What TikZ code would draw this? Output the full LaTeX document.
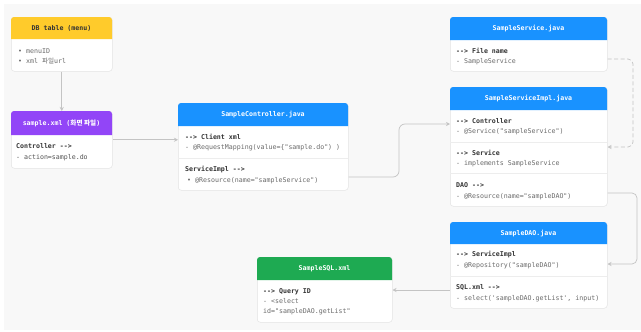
\documentclass[tikz,border=0pt]{standalone}
\usepackage{fontspec}
\setmonofont{DejaVu Sans Mono}
\newfontfamily\kr{Noto Sans CJK KR}
\usetikzlibrary{arrows.meta,calc}

\definecolor{pagebg}{HTML}{F8F8F8}
\definecolor{hdryellow}{HTML}{FFCB2B}
\definecolor{hdrpurple}{HTML}{9245F7}
\definecolor{hdrblue}{HTML}{1992FF}
\definecolor{hdrgreen}{HTML}{1EAA52}
\definecolor{boxline}{HTML}{E3E3E3}
\definecolor{divline}{HTML}{EDEDED}
\definecolor{txtdark}{HTML}{333333}
\definecolor{txtgray}{HTML}{6A6A6A}
\definecolor{wire}{HTML}{C4C4C4}

\tikzset{
  card/.style={draw=boxline, fill=white, rounded corners=3pt, line width=0.5pt,
    anchor=north west, inner sep=0pt},
  hdrtext/.style={font=\ttfamily\bfseries\fontsize{6.6}{8}\selectfont, text=white, inner sep=0pt},
  keyline/.style={font=\ttfamily\bfseries\fontsize{6.6}{8}\selectfont, text=txtdark,
    anchor=mid west, inner sep=0pt},
  plainline/.style={font=\ttfamily\fontsize{6.6}{8}\selectfont, text=txtgray,
    anchor=mid west, inner sep=0pt},
  conn/.style={draw=wire, line width=0.7pt, rounded corners=5pt,
    -{Stealth[length=4pt,width=4pt]}},
}

% card with a coloured header band: name, x1, y1, x2, y2, header bottom, colour
\newcommand{\headcard}[7]{%
  \node[card, minimum width={(#4-#2)*1pt}, minimum height={(#5-#3)*1pt}] (#1) at (#2,#3) {};
  \fill[#7] (#2,#6) [rounded corners=3pt] -- (#2,#3) -- (#4,#3) [sharp corners] -- (#4,#6) -- cycle;
}
\newcommand{\divider}[3]{\draw[divline, line width=0.5pt] (#1,#3) -- (#2,#3);}

\begin{document}
\begin{tikzpicture}[x=1pt, y=-1pt]
\useasboundingbox (0,0) rectangle (641,332);
\fill[white] (0,0) rectangle (641,332);
\fill[pagebg] (4,4) rectangle (641,330);

% ---- DB table
\headcard{db}{11}{17}{112}{71}{39}{hdryellow}
\node[hdrtext, text=txtdark] (dbh) at (61.5,28.5) {DB table (menu)};
\node[plainline] (db1) at (18,51) {• menuID};
\node[plainline] (db2) at (18,61.5) {• xml {\kr 파일}url};

% ---- sample.xml
\headcard{xml}{11}{111}{112}{168}{135}{hdrpurple}
\node[hdrtext] (xmlh) at (61.5,123) {sample.xml ({\kr\bfseries 화면 파일})};
\node[keyline] (xml1) at (16,146) {Controller -->};
\node[plainline, text=txtdark!85] (xml2) at (16,157) {- action=sample.do};

% ---- SampleController.java
\headcard{ctrl}{178}{103}{348}{190}{126}{hdrblue}
\divider{178}{348}{158}
\node[hdrtext] (ctrlh) at (263,114.5) {SampleController.java};
\node[keyline] (c1) at (185,137) {--> Client xml};
\node[plainline] (c2) at (185,147.5) {- @RequestMapping(value=\{"sample.do") )};
\node[keyline] (c3) at (185,169) {ServiceImpl -->};
\node[plainline] (c4) at (187,180) {• @Resource(name="sampleService")};

% ---- SampleService.java
\headcard{svc}{450}{17}{607}{71}{40}{hdrblue}
\node[hdrtext] (svch) at (528.5,29) {SampleService.java};
\node[keyline] (s1) at (456,51) {--> File name};
\node[plainline] (s2) at (456,61.5) {- SampleService};

% ---- SampleServiceImpl.java
\headcard{impl}{450}{87}{607}{206}{110}{hdrblue}
\divider{450}{607}{142}
\divider{450}{607}{173}
\node[hdrtext] (implh) at (528.5,98.5) {SampleServiceImpl.java};
\node[keyline] (i1) at (456,121) {--> Controller};
\node[plainline] (i2) at (456,131.5) {- @Service("sampleService")};
\node[keyline] (i3) at (456,153) {--> Service};
\node[plainline] (i4) at (456,163.5) {- implements SampleService};
\node[keyline] (i5) at (456,185) {DAO -->};
\node[plainline] (i6) at (456,196) {- @Resource(name="sampleDAO")};

% ---- SampleDAO.java
\headcard{dao}{450}{222}{607}{308}{244}{hdrblue}
\divider{450}{607}{276}
\node[hdrtext] (daoh) at (528.5,233.5) {SampleDAO.java};
\node[keyline] (d1) at (456,254.5) {--> ServiceImpl};
\node[plainline] (d2) at (456,265) {- @Repository("sampleDAO")};
\node[keyline] (d3) at (456,287) {SQL.xml -->};
\node[plainline] (d4) at (456,298) {- select('sampleDAO.getList', input)};

% ---- SampleSQL.xml
\headcard{sql}{257}{257}{392}{322}{280}{hdrgreen}
\node[hdrtext] (sqlh) at (324.5,268.5) {SampleSQL.xml};
\node[keyline] (q1) at (263,291) {--> Query ID};
\node[plainline] (q2) at (263,301) {- <select};
\node[plainline] (q3) at (263,311.5) {id="sampleDAO.getList"};

% ---- connectors
\draw[conn] (db.south) -- (xml.north);
\draw[conn] (xml.east) -- (xml.east -| ctrl.west);
\draw[conn, rounded corners=6pt] (ctrl.east |- 0,177) -- (399,177) -- (399,124) -- (impl.west |- 0,124);
\draw[conn, dashed, dash pattern=on 4pt off 2.5pt] (svc.east |- 0,59) -- (633,59) -- (633,147) -- (impl.east |- 0,147);
\draw[conn] (impl.east |- 0,193) -- (637,193) -- (637,264) -- (dao.east |- 0,264);
\draw[conn] (dao.west |- 0,290) -- (sql.east |- 0,290);
\end{tikzpicture}
\end{document}
